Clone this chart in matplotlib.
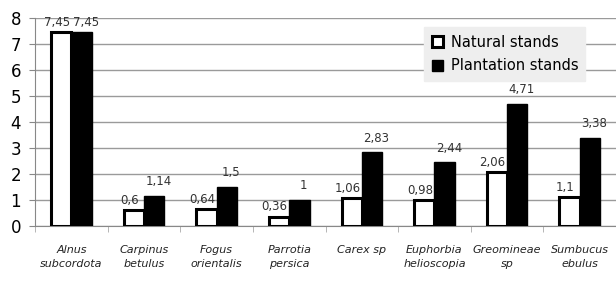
import matplotlib
matplotlib.use('Agg')
import matplotlib.pyplot as plt
import numpy as np

species = ['Alnus\nsubcordota', 'Carpinus\nbetulus', 'Fogus\norientalis',
           'Parrotia\npersica', 'Carex sp', 'Euphorbia\nhelioscopia',
           'Greomineae\nsp', 'Sumbucus\nebulus']
natural = [7.45, 0.6, 0.64, 0.36, 1.06, 0.98, 2.06, 1.1]
plantation = [7.45, 1.14, 1.5, 1, 2.83, 2.44, 4.71, 3.38]
natural_labels = ['7,45', '0,6', '0,64', '0,36', '1,06', '0,98', '2,06', '1,1']
plantation_labels = ['7,45', '1,14', '1,5', '1', '2,83', '2,44', '4,71', '3,38']

fig = plt.figure(figsize=(6.16, 2.82), dpi=100, facecolor='white')
ax = fig.add_axes([0.057, 0.199, 0.943, 0.737])

x = np.arange(len(species))
w = 0.28

ax.bar(x - w / 2, natural, w, color='white', edgecolor='black', lw=2.2,
       label='Natural stands', zorder=3)
ax.bar(x + w / 2, plantation, w, color='black', edgecolor='black', lw=1,
       label='Plantation stands', zorder=3)

for xi, v, s in zip(x, natural, natural_labels):
    ax.text(xi - w / 2 - 0.06, v + 0.12, s, ha='center', va='bottom',
            fontsize=8.5, color='#333333')
for xi, v, s in zip(x, plantation, plantation_labels):
    dy = 0.12 if v > 7 else 0.3
    ax.text(xi + w / 2 + 0.06, v + dy, s, ha='center', va='bottom',
            fontsize=8.5, color='#333333')

ax.set_xlim(-0.5, len(species) - 0.5)
ax.set_ylim(0, 8)
ax.set_yticks(range(0, 9))
ax.yaxis.grid(True, color='#9a9a9a', lw=1)
ax.set_axisbelow(True)
ax.tick_params(axis='y', labelsize=12, length=4, color='#888888', pad=6)
ax.set_xticks(x)
ax.set_xticklabels(species, fontsize=8, style='italic', color='#222222',
                   linespacing=1.5)
ax.set_xticks(np.arange(-0.5, len(species), 1), minor=True)
ax.tick_params(axis='x', which='major', length=0, pad=14)
ax.tick_params(axis='x', which='minor', length=4, color='#aaaaaa')
for sp in ['top', 'right']:
    ax.spines[sp].set_visible(False)
ax.spines['left'].set_color('#888888')
ax.spines['bottom'].set_color('#888888')

leg = ax.legend(loc='upper right', bbox_to_anchor=(0.96, 0.99), fontsize=10.5,
                frameon=True, fancybox=False, handlelength=0.8, handleheight=0.8,
                borderpad=0.5, labelspacing=0.6, handletextpad=0.5)
leg.get_frame().set_facecolor('#eeeeee')
leg.get_frame().set_edgecolor('#eeeeee')
leg.get_frame().set_alpha(1)

fig.savefig('out.png', dpi=100, facecolor='white')
